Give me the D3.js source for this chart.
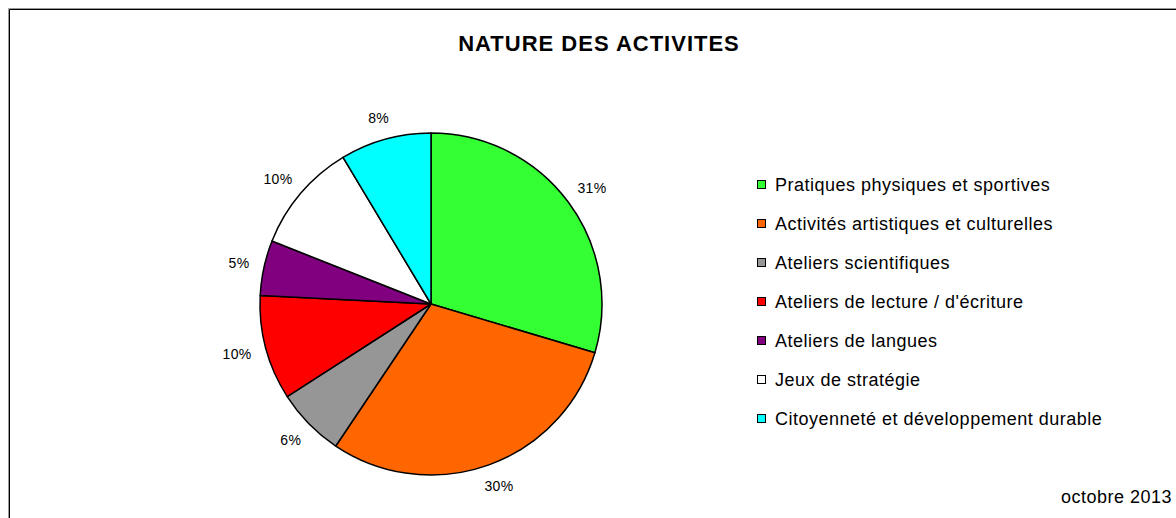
<!DOCTYPE html>
<html>
<head>
<meta charset="utf-8">
<script src="https://cdn.jsdelivr.net/npm/d3@7"></script>
<style>
  body { margin: 0; background: #fff; }
  text { font-family: "Liberation Sans", Arial, sans-serif; fill: #000; }
</style>
</head>
<body>
<script>
const width = 1176;
const height = 518;

const categories = [
  "Pratiques physiques et sportives",
  "Activités artistiques et culturelles",
  "Ateliers scientifiques",
  "Ateliers de lecture / d'écriture",
  "Ateliers de langues",
  "Jeux de stratégie",
  "Citoyenneté et développement durable"
];
// shares as drawn in the picture
const values = [29.6, 29.8, 6.5, 9.9, 5.2, 10.4, 8.6];
// percentages printed next to the slices
const pctLabels = ["31%", "30%", "6%", "10%", "5%", "10%", "8%"];
const colors = ["#33ff33", "#ff6600", "#969696", "#ff0000", "#800080", "#ffffff", "#00ffff"];

const svg = d3.select("body")
  .append("svg")
  .attr("width", width)
  .attr("height", height);

// frame
svg.append("path")
  .attr("d", "M8.5,518 V8.5 H1176")
  .attr("fill", "none")
  .attr("stroke", "#999");
svg.append("path")
  .attr("d", "M9.5,518 V9.5 H1176")
  .attr("fill", "none")
  .attr("stroke", "#000");

svg.append("text")
  .attr("x", 599)
  .attr("y", 51)
  .attr("text-anchor", "middle")
  .style("font-size", "22px")
  .style("font-weight", "bold")
  .style("letter-spacing", "1px")
  .text("NATURE DES ACTIVITES");

const cx = 431, cy = 304, radius = 171;

const pie = d3.pie().sort(null).value(d => d);
const arcs = pie(values);
const arc = d3.arc().innerRadius(0).outerRadius(radius);

const g = svg.append("g").attr("transform", `translate(${cx},${cy})`);

g.selectAll("path")
  .data(arcs)
  .enter()
  .append("path")
  .attr("d", arc)
  .attr("fill", (d, i) => colors[i])
  .attr("stroke", "#000")
  .attr("stroke-width", 1.5)
  .attr("stroke-linejoin", "round");

const labelR = radius + 16;
const labelW = s => s.length * 8.5 + 2;
const labelH = 13;

g.selectAll(".slice-label")
  .data(arcs)
  .enter()
  .append("text")
  .attr("class", "slice-label")
  .attr("text-anchor", "middle")
  .style("font-size", "14px")
  .style("letter-spacing", "0.3px")
  .attr("x", (d, i) => {
    const a = (d.startAngle + d.endAngle) / 2;
    return Math.sin(a) * labelR + Math.sin(a) * labelW(pctLabels[i]) / 2;
  })
  .attr("y", (d, i) => {
    const a = (d.startAngle + d.endAngle) / 2;
    return -Math.cos(a) * labelR - Math.cos(a) * labelH / 2 + 5;
  })
  .text((d, i) => pctLabels[i]);

// legend
const legendY = d3.scalePoint()
  .domain(categories)
  .range([185, 419]);

const legend = svg.append("g")
  .selectAll("g")
  .data(categories)
  .enter()
  .append("g")
  .attr("transform", d => `translate(757,${legendY(d)})`);

legend.append("rect")
  .attr("x", 0.5)
  .attr("y", -4.5)
  .attr("width", 8)
  .attr("height", 8)
  .attr("fill", (d, i) => colors[i])
  .attr("stroke", "#000");

legend.append("text")
  .attr("x", 18)
  .attr("y", 6)
  .style("font-size", "18px")
  .style("letter-spacing", "0.5px")
  .text(d => d);

svg.append("text")
  .attr("x", 1172)
  .attr("y", 503)
  .attr("text-anchor", "end")
  .style("font-size", "18px")
  .style("letter-spacing", "0.5px")
  .text("octobre 2013");
</script>
</body>
</html>
